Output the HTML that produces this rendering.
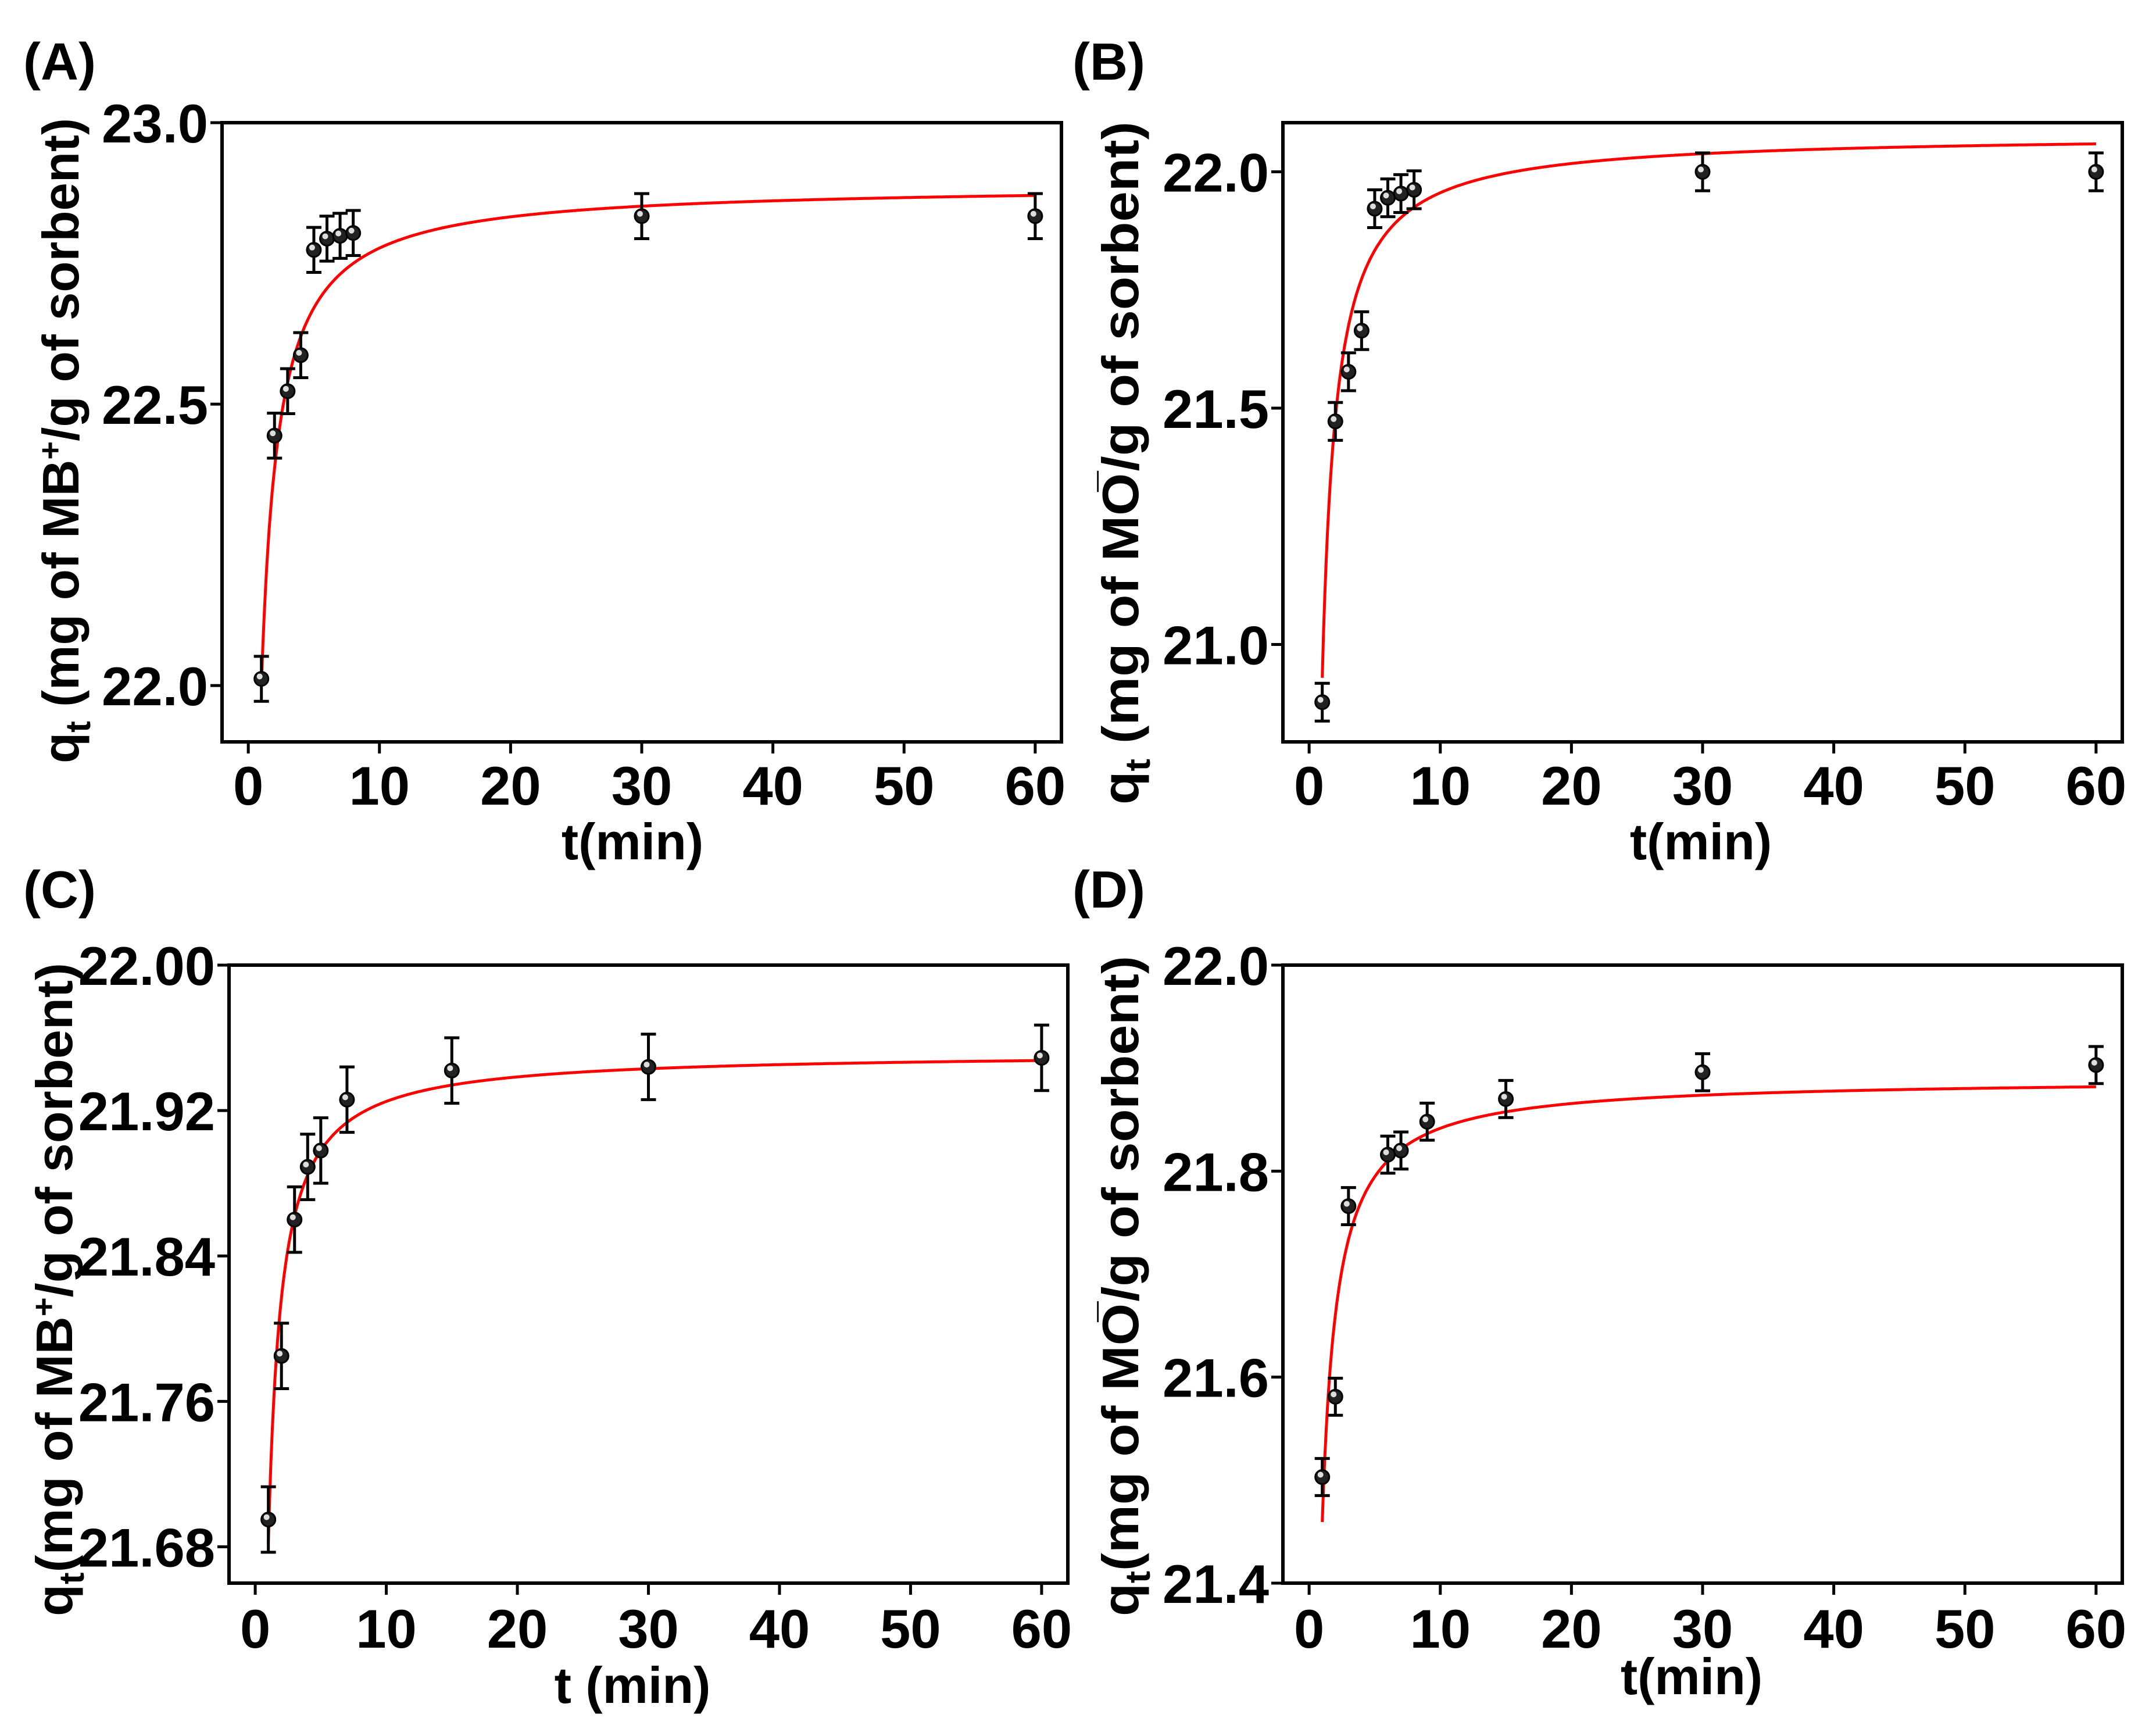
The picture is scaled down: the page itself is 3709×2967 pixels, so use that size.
<!DOCTYPE html>
<html><head><meta charset="utf-8"><style>
html,body{margin:0;padding:0;background:#fff;}
svg{display:block;}
.tick{font-family:"Liberation Sans Narrow","Liberation Sans",sans-serif;font-weight:bold;font-size:94px;fill:#000;}
.title{font-family:"Liberation Sans",sans-serif;font-weight:bold;font-size:88px;fill:#000;}
.plab{font-family:"Liberation Sans",sans-serif;font-weight:bold;font-size:90px;fill:#000;}
</style></head><body>
<svg id="fig" width="3709" height="2967" viewBox="0 0 3709 2967" xmlns="http://www.w3.org/2000/svg">
<rect x="0" y="0" width="3709" height="2967" fill="#fff"/>
</svg>
<script>
// Panel A data
const tA = [1,2,3,4,5,6,7,8,30,60];
const qA = [22.012,22.444,22.523,22.587,22.774,22.794,22.799,22.804,22.834,22.834];
const eA = [0.04,0.04,0.04,0.04,0.04,0.04,0.04,0.04,0.04,0.04];
const fitA = [22.89,1.163,0.307];
const yTicksA = [22.0,22.5,23.0];
const yLabelsA = ["22.0","22.5","23.0"];
// Panel B data
const tB = [1,2,3,4,5,6,7,8,30,60];
const qB = [20.878,21.472,21.577,21.664,21.922,21.945,21.954,21.962,22.0,22.0];
const eB = [0.04,0.04,0.04,0.04,0.04,0.04,0.04,0.04,0.04,0.04];
const fitB = [22.08,1.254,0.09];
const yTicksB = [21.0,21.5,22.0];
const yLabelsB = ["21.0","21.5","22.0"];
// Panel C data
const tC = [1,2,3,4,5,7,15,30,60];
const qC = [21.695,21.785,21.860,21.889,21.898,21.926,21.942,21.944,21.949];
const eC = [0.018,0.018,0.018,0.018,0.018,0.018,0.018,0.018,0.018];
const fitC = [21.952,0.27,0.0];
const yTicksC = [21.68,21.76,21.84,21.92,22.00];
const yLabelsC = ["21.68","21.76","21.84","21.92","22.00"];
// Panel D data
const tD = [1,2,3,6,7,9,15,30,60];
const qD = [21.503,21.581,21.766,21.816,21.820,21.848,21.870,21.896,21.903];
const eD = [0.018,0.018,0.018,0.018,0.018,0.018,0.018,0.018,0.018];
const fitD = [21.89,0.491,0.14];
const yTicksD = [21.4,21.6,21.8,22.0];
const yLabelsD = ["21.4","21.6","21.8","22.0"];
const xTicks = [0,10,20,30,40,50,60];
const xLabels = ["0","10","20","30","40","50","60"];

const NS="http://www.w3.org/2000/svg";
const fig=document.getElementById('fig');
function mk(tag,attrs,parent){const e=document.createElementNS(NS,tag);for(const k in attrs)e.setAttribute(k,attrs[k]);(parent||fig).appendChild(e);return e;}

function panel(cfg){
  const g=mk('g',{});
  
  
  const L=cfg.box[0],R=cfg.box[1],T=cfg.box[2],B=cfg.box[3];
  const xs=v=>L+(v-(-2))/(64)*(R-L);
  const ys=v=>B-(v-cfg.ymin)/(cfg.ymax-cfg.ymin)*(B-T);
  const fr=mk('rect',{x:L,y:T,width:R-L,height:B-T,fill:'none',stroke:'#000','stroke-width':6},g);
  
  
  xTicks.forEach((v,i)=>{
    const x=xs(v);
    const tk=mk('line',{x1:x,y1:B,x2:x,y2:B+20,stroke:'#000','stroke-width':5},g);
    
    
    const t=mk('text',{x:x,y:cfg.xLabY,'text-anchor':'middle',class:'tick'},g);
    t.textContent=xLabels[i];
    
    
  });
  cfg.yt.forEach((v,i)=>{
    const y=ys(v);
    const tk=mk('line',{x1:L-20,y1:y,x2:L,y2:y,stroke:'#000','stroke-width':5},g);
    
    
    const t=mk('text',{x:L-24,y:y+34,'text-anchor':'end',class:'tick'},g);
    t.textContent=cfg.yl[i];
    
    
  });
  const f=cfg.fit;let d='';
  for(let t=1;t<=60.001;t+=0.1){
    const q=f[0]-f[1]/(t+f[2]);
    d+=(d?'L':'M')+xs(t).toFixed(1)+','+ys(q).toFixed(1);
  }
  const p=mk('path',{d:d,fill:'none',stroke:'#ff0000','stroke-width':5},g);
  
  
  cfg.t.forEach((tv,i)=>{
    const x=xs(tv),y=ys(cfg.q[i]),y1=ys(cfg.q[i]+cfg.e[i]),y2=ys(cfg.q[i]-cfg.e[i]);
    const eb=mk('path',{d:`M${x},${y1}L${x},${y2}M${x-13},${y1}L${x+13},${y1}M${x-13},${y2}L${x+13},${y2}`,stroke:'#000','stroke-width':5,fill:'none'},g);
    
    
    const c=mk('circle',{cx:x,cy:y,r:12,fill:'#222',stroke:'#000','stroke-width':3},g);
    
    
    mk('circle',{cx:x-3,cy:y-4,r:5,fill:'#ddd'},g);
  });
  const xt=mk('text',{x:cfg.xt[0],y:cfg.xt[1],'text-anchor':'middle',class:'title'},g);
  xt.textContent=cfg.xtitle;
  
  
  const yt=mk('text',{x:0,y:0,class:'title',transform:`translate(${cfg.yt0[0]},${cfg.yt0[1]}) rotate(-90)`,textLength:cfg.yt0[2],lengthAdjust:'spacingAndGlyphs'},g);
  
  
  yt.innerHTML=cfg.ytitle;
  const pl=mk('text',{x:cfg.pl[0],y:cfg.pl[1],class:'plab'},g);
  pl.textContent=cfg.letter;
  
  
}

panel({name:'panel-a',box:[382,1826,211,1276],ymin:21.9,ymax:23.0,yt:yTicksA,yl:yLabelsA,
  t:tA,q:qA,e:eA,fit:fitA,xLabY:1384,xt:[1088,1478],xtitle:'t(min)',
  yt0:[135,1313,1110],ytitle:'q<tspan font-size="60" dy="20">t</tspan><tspan dy="-20"> (mg of MB</tspan><tspan font-size="55" dy="-30">+</tspan><tspan dy="30">/g of sorbent)</tspan>',
  pl:[40,137],letter:'(A)'});
panel({name:'panel-b',box:[2207,3651,211,1276],ymin:20.794,ymax:22.104,yt:yTicksB,yl:yLabelsB,
  t:tB,q:qB,e:eB,fit:fitB,xLabY:1384,xt:[2926,1478],xtitle:'t(min)',
  yt0:[1958,1384,1175],ytitle:'q<tspan font-size="60" dy="20">t</tspan><tspan dy="-20"> (mg of MO</tspan><tspan font-size="60" dx="-30" dy="-25">¯</tspan><tspan dy="25">/g of sorbent)</tspan>',
  pl:[1845,137],letter:'(B)'});
panel({name:'panel-c',box:[394,1837,1660,2723],ymin:21.66,ymax:22.0,yt:yTicksC,yl:yLabelsC,
  t:tC,q:qC,e:eC,fit:fitC,xLabY:2834,xt:[1088,2929],xtitle:'t (min)',
  yt0:[124,2780,1124],ytitle:'q<tspan font-size="60" dy="20">t</tspan><tspan dy="-20">(mg of MB</tspan><tspan font-size="55" dy="-30">+</tspan><tspan dy="30">/g of sorbent)</tspan>',
  pl:[40,1561],letter:'(C)'});
panel({name:'panel-d',box:[2207,3651,1660,2723],ymin:21.4,ymax:22.0,yt:yTicksD,yl:yLabelsD,
  t:tD,q:qD,e:eD,fit:fitD,xLabY:2834,xt:[2910,2914],xtitle:'t(min)',
  yt0:[1958,2780,1136],ytitle:'q<tspan font-size="60" dy="20">t</tspan><tspan dy="-20">(mg of MO</tspan><tspan font-size="60" dx="-30" dy="-25">¯</tspan><tspan dy="25">/g of sorbent)</tspan>',
  pl:[1845,1561],letter:'(D)'});
</script>
</body></html>
